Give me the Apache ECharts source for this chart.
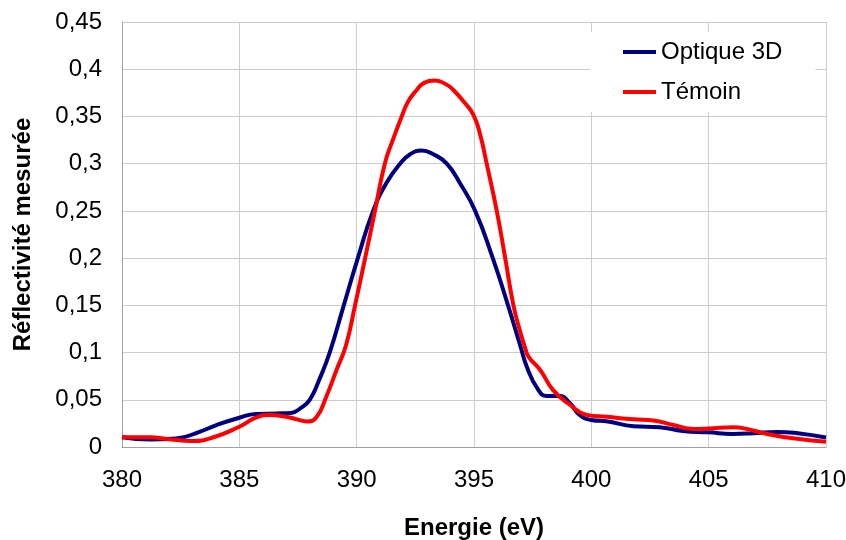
<!DOCTYPE html>
<html>
<head>
<meta charset="utf-8">
<script src="https://cdn.jsdelivr.net/npm/echarts@6/dist/echarts.min.js"></script>
<style>
  html, body { margin: 0; padding: 0; background: #fff; }
  #chart { width: 846px; height: 540px; }
</style>
</head>
<body>
<div id="chart"></div>
<script>
const seriesNames = ["Optique 3D", "Témoin"];

// Optique 3D
const opticEnergy = [380, 381.2, 382.3, 383.3, 384.0, 385.0, 385.7, 386.6, 387.2, 387.6, 388.0, 388.4, 388.85, 389.45,
  390.05, 390.7, 391.28, 391.85, 392.28, 392.77, 393.27, 393.84, 394.41, 395.05, 395.8, 396.45, 397.0, 397.25,
  397.7, 398.1, 398.65, 399.1, 399.5, 400.0, 400.7, 401.8, 402.9, 403.9, 405.0, 406.0, 406.9, 407.9, 408.8, 410];
const opticRefl = [0.0103, 0.008, 0.009, 0.016, 0.023, 0.031, 0.035, 0.0355, 0.036, 0.041, 0.05, 0.071, 0.1, 0.15,
  0.2, 0.25, 0.28, 0.3, 0.31, 0.314, 0.31, 0.3, 0.279, 0.25, 0.2, 0.15, 0.105, 0.085,
  0.062, 0.054, 0.054, 0.046, 0.034, 0.0286, 0.027, 0.022, 0.021, 0.017, 0.0155, 0.0138, 0.0145, 0.016, 0.0145, 0.01];

// Témoin
const temoinEnergy = [380, 381.2, 381.9, 383.0, 383.9, 385.0, 385.7, 386.3, 387.0, 387.5, 387.9, 388.3, 388.7, 389.15, 389.55,
  389.93, 390.36, 390.78, 391.2, 391.57, 391.92, 392.2, 392.56, 392.84, 393.34, 393.84, 394.12, 394.55, 394.97,
  395.26, 395.54, 395.97, 396.33, 396.68, 396.97, 397.18, 397.32, 397.82, 398.38, 399.1, 399.8, 400.66, 401.8, 402.65,
  403.5, 404.35, 405.0, 406.06, 406.63, 407.5, 408.6, 410];
const temoinRefl = [0.0103, 0.0103, 0.0085, 0.0064, 0.0103, 0.0215, 0.031, 0.034, 0.032, 0.029, 0.027, 0.032, 0.053, 0.082, 0.108,
  0.15, 0.2, 0.25, 0.3, 0.327, 0.35, 0.366, 0.378, 0.385, 0.388, 0.3835, 0.378, 0.366, 0.352,
  0.331, 0.3, 0.25, 0.2, 0.15, 0.122, 0.105, 0.0957, 0.0815, 0.06, 0.0445, 0.034, 0.032, 0.0293, 0.028,
  0.0233, 0.019, 0.0195, 0.021, 0.019, 0.0138, 0.0092, 0.0056];

const font = 'Arial, "Liberation Sans", sans-serif';

let pairs = (xs, ys) => xs.map((x, i) => [x, ys[i]]);

let chart = echarts.init(document.getElementById("chart"));

let option = {
  animation: false,
  color: ["#000080", "#ff0000"],
  textStyle: { fontFamily: font },
  grid: {
    left: 122,
    top: 22,
    right: 20,
    bottom: 93,
    outerBoundsMode: "none",
  },
  legend: {
    data: seriesNames,
    orient: "vertical",
    left: 590,
    top: 32,
    padding: [8, 33, 8, 33],
    itemGap: 16,
    itemWidth: 33,
    itemHeight: 4,
    icon: "rect",
    backgroundColor: "#fff",
    selectedMode: false,
    textStyle: { fontSize: 24, color: "#000", fontFamily: font },
  },
  xAxis: {
    type: "value",
    min: 380,
    max: 410,
    interval: 5,
    name: "Energie (eV)",
    nameLocation: "middle",
    nameGap: 69,
    nameTextStyle: { fontSize: 24, fontWeight: "bold", color: "#000", fontFamily: font },
    axisLine: { lineStyle: { color: "#a0a0a0", width: 1 } },
    axisTick: { show: false },
    axisLabel: { fontSize: 24, color: "#000", margin: 21, fontFamily: font },
    splitLine: { lineStyle: { color: "#cccccc", width: 1 } },
  },
  yAxis: {
    type: "value",
    min: 0,
    max: 0.45,
    interval: 0.05,
    name: "Réflectivité mesurée",
    nameLocation: "middle",
    nameGap: 87,
    nameTextStyle: { fontSize: 24, fontWeight: "bold", color: "#000", fontFamily: font },
    axisLine: { show: true, lineStyle: { color: "#a0a0a0", width: 1 } },
    axisTick: { show: false },
    axisLabel: {
      fontSize: 24,
      color: "#000",
      margin: 20,
      fontFamily: font,
      formatter: (v) => String(+v.toFixed(2)).replace(".", ","),
    },
    splitLine: { lineStyle: { color: "#cccccc", width: 1 } },
  },
  series: [
    {
      name: seriesNames[0],
      type: "line",
      data: pairs(opticEnergy, opticRefl),
      smooth: 0.5,
      showSymbol: false,
      lineStyle: { width: 4 },
      z: 2,
    },
    {
      name: seriesNames[1],
      type: "line",
      data: pairs(temoinEnergy, temoinRefl),
      smooth: 0.5,
      showSymbol: false,
      lineStyle: { width: 4 },
      z: 3,
    },
  ],
};

chart.setOption(option);
</script>
</body>
</html>
